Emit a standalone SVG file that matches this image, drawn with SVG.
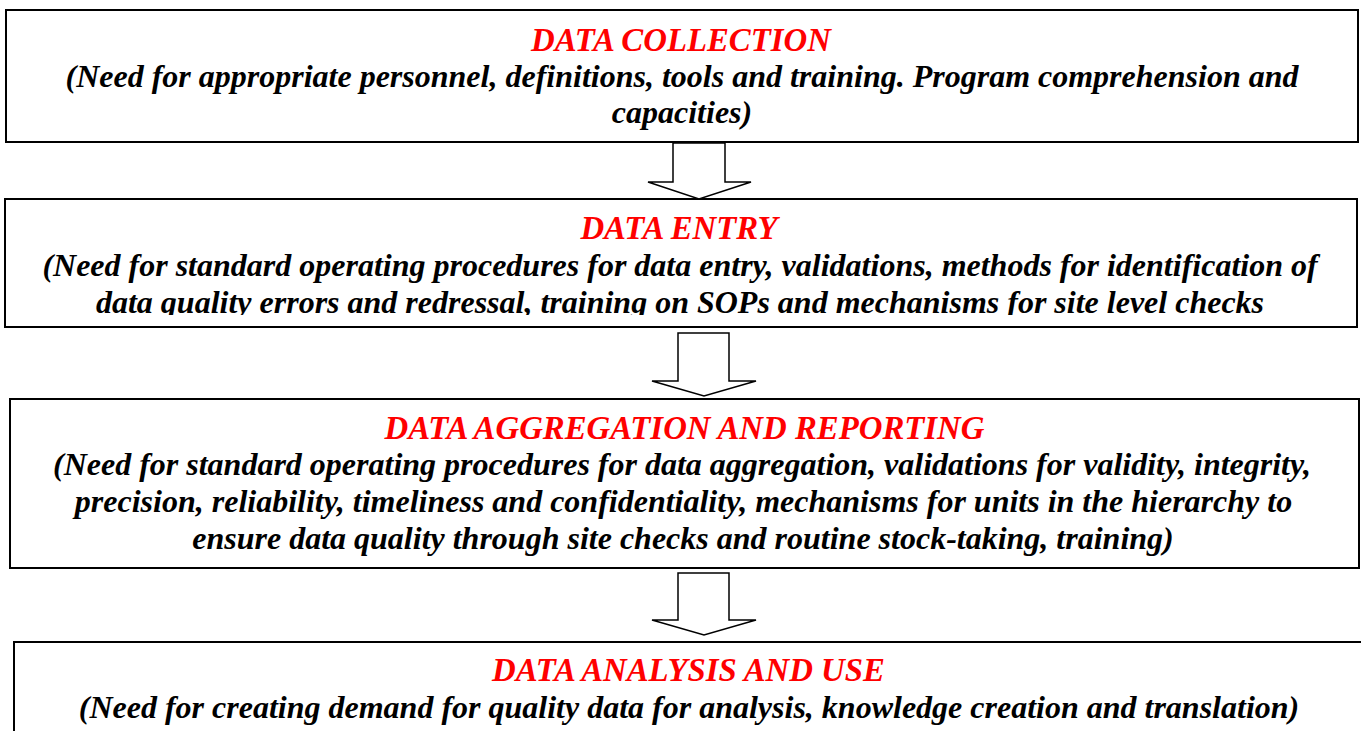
<svg xmlns="http://www.w3.org/2000/svg" width="1361" height="731" viewBox="0 0 1361 731">
<style>
.box{fill:#fff;stroke:#000;stroke-width:2}
.t{font-family:"Liberation Serif","Times New Roman",serif;font-weight:bold;font-style:italic;text-anchor:middle}
.h{fill:#ff0000;font-size:32.8px}
.b{fill:#000;font-size:32px}
.arr{fill:#fff;stroke:#000;stroke-width:1.5;stroke-linejoin:miter}
</style>
<defs>
<clipPath id="c2"><rect x="0" y="190" width="1361" height="125"/></clipPath>
</defs>
<rect width="1361" height="731" fill="#fff"/>
<g id="n1">
<rect class="box" x="6" y="10" width="1352" height="132"/>
<text class="t h" x="681" y="51">DATA COLLECTION</text>
<text class="t b" x="682" y="87">(Need for appropriate personnel, definitions, tools and training. Program comprehension and</text>
<text class="t b" x="682" y="123">capacities)</text>
</g>
<g id="n2">
<rect class="box" x="5" y="199" width="1352" height="128"/>
<text class="t h" x="679" y="239">DATA ENTRY</text>
<text class="t b" x="680" y="276">(Need for standard operating procedures for data entry, validations, methods for identification of</text>
<text class="t b" x="680" y="313" clip-path="url(#c2)">data quality errors and redressal, training on SOPs and mechanisms for site level checks</text>
</g>
<g id="n3">
<rect class="box" x="10" y="399" width="1349" height="169"/>
<text class="t h" x="684.5" y="439">DATA AGGREGATION AND REPORTING</text>
<text class="t b" x="682" y="475">(Need for standard operating procedures for data aggregation, validations for validity, integrity,</text>
<text class="t b" x="683.5" y="512">precision, reliability, timeliness and confidentiality, mechanisms for units in the hierarchy to</text>
<text class="t b" x="683" y="549">ensure data quality through site checks and routine stock-taking, training)</text>
</g>
<g id="n4">
<rect class="box" x="14" y="642" width="1360" height="100"/>
<text class="t h" x="688.5" y="681">DATA ANALYSIS AND USE</text>
<text class="t b" x="689" y="718">(Need for creating demand for quality data for analysis, knowledge creation and translation)</text>
</g>
<g id="connectors">
<polygon class="arr" points="673,143 725,143 725,182 751,182 699,199 648,182 673,182"/>
<polygon class="arr" points="678,333 729,333 729,381 756,381 704,396 652,381 678,381"/>
<polygon class="arr" points="678,573 729,573 729,620 756,620 704,635 652,620 678,620"/>
</g>
</svg>
